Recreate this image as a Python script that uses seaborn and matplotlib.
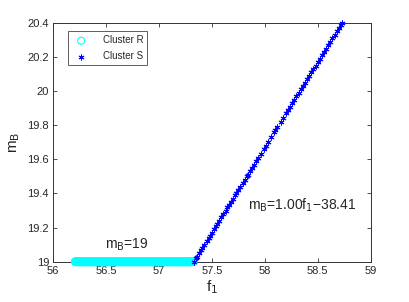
import pandas as pd
import matplotlib
matplotlib.use("Agg")
import matplotlib.pyplot as plt
import seaborn as sns

# --- adatok ---
r_f1 = [56.21, 56.23, 56.24, 56.26, 56.28, 56.30, 56.31, 56.33, 56.35, 56.37, 56.39, 56.40,
        56.42, 56.44, 56.46, 56.48, 56.49, 56.51, 56.53, 56.55, 56.57, 56.58, 56.60, 56.62,
        56.64, 56.66, 56.67, 56.69, 56.71, 56.73, 56.75, 56.76, 56.78, 56.80, 56.82, 56.84,
        56.85, 56.87, 56.89, 56.91, 56.93, 56.94, 56.96, 56.98, 57.00, 57.02, 57.03, 57.05,
        57.07, 57.09, 57.11, 57.12, 57.14, 57.16, 57.18, 57.20, 57.21, 57.23, 57.25, 57.27,
        57.29, 57.30, 57.32]
r_mb = [19.0] * len(r_f1)

s_f1 = [57.33, 57.35, 57.36, 57.38, 57.40, 57.41, 57.43, 57.45, 57.47, 57.48, 57.50, 57.52,
        57.54, 57.55, 57.57, 57.59, 57.61, 57.63, 57.64, 57.66, 57.68, 57.70, 57.72, 57.73,
        57.75, 57.77, 57.79, 57.81, 57.83, 57.84, 57.86, 57.88, 57.90, 57.92, 57.94, 57.96,
        57.99, 58.01, 58.03, 58.06, 58.09, 58.10, 58.12, 58.15, 58.17, 58.20, 58.22, 58.24,
        58.26, 58.28, 58.30, 58.32, 58.34, 58.36, 58.38, 58.40, 58.42, 58.44, 58.46, 58.48,
        58.50, 58.52, 58.54, 58.56, 58.58, 58.60, 58.62, 58.64, 58.66, 58.68, 58.70, 58.72,
        58.73]
s_mb = [19.00, 19.02, 19.03, 19.05, 19.07, 19.08, 19.10, 19.12, 19.14, 19.15, 19.17, 19.19,
        19.21, 19.22, 19.24, 19.26, 19.28, 19.30, 19.32, 19.33, 19.35, 19.37, 19.39, 19.40,
        19.42, 19.44, 19.46, 19.48, 19.50, 19.51, 19.53, 19.55, 19.57, 19.59, 19.61, 19.63,
        19.66, 19.68, 19.70, 19.73, 19.76, 19.77, 19.79, 19.82, 19.84, 19.87, 19.89, 19.91,
        19.93, 19.95, 19.97, 19.99, 20.01, 20.03, 20.05, 20.07, 20.09, 20.11, 20.13, 20.15,
        20.17, 20.19, 20.21, 20.23, 20.25, 20.27, 20.29, 20.31, 20.33, 20.35, 20.37, 20.39,
        20.40]

x_ticks = [56, 56.5, 57, 57.5, 58, 58.5, 59]
x_labels = ["56", "56.5", "57", "57.5", "58", "58.5", "59"]
y_ticks = [19, 19.2, 19.4, 19.6, 19.8, 20, 20.2, 20.4]
y_labels = ["19", "19.2", "19.4", "19.6", "19.8", "20", "20.2", "20.4"]

sns.set_style("ticks")
plt.rcParams["font.family"] = ["Liberation Sans", "DejaVu Sans"]
plt.rcParams["xtick.direction"] = "in"
plt.rcParams["ytick.direction"] = "in"

df_r = pd.DataFrame({"f1": r_f1, "mB": r_mb})
df_s = pd.DataFrame({"f1": s_f1, "mB": s_mb})

fig = plt.figure(figsize=(4.09, 3.02), dpi=100)
ax = fig.add_axes([0.130, 0.1334, 0.776, 0.7906])

sns.scatterplot(data=df_r, x="f1", y="mB", ax=ax, marker="o", s=26,
                facecolors="none", edgecolor="#00ffff", linewidth=1.5,
                label="Cluster R", zorder=3, clip_on=False)
sns.scatterplot(data=df_s, x="f1", y="mB", ax=ax, marker=(6, 2, 0), s=14,
                color="#0000ff", linewidth=0.7, label="Cluster S", zorder=3,
                clip_on=False)

ax.set_xlim(56, 59)
ax.set_ylim(19, 20.4)
ax.set_xticks(x_ticks)
ax.set_xticklabels(x_labels)
ax.set_yticks(y_ticks)
ax.set_yticklabels(y_labels)
ax.tick_params(axis="both", labelsize=8, length=3, width=0.6, color="#333333",
               top=True, right=True, pad=3)
for sp in ax.spines.values():
    sp.set_visible(True)
    sp.set_linewidth(0.7)
    sp.set_color("#333333")

ax.set_xlabel("f$_1$", fontsize=11, labelpad=2)
ax.set_ylabel("m$_\\mathrm{B}$", fontsize=11, labelpad=4)

ax.text(56.49, 19.1, "m$_\\mathrm{B}$=19", fontsize=10, va="center")
ax.text(57.84, 19.33, "m$_\\mathrm{B}$=1.00f$_1$\u221238.41", fontsize=10, va="center")

leg = ax.legend(loc="upper left", bbox_to_anchor=(0.03, 0.985), fontsize=7,
                frameon=True, fancybox=False, edgecolor="#333333",
                handletextpad=1.2, borderpad=0.4, labelspacing=0.6)
leg.get_frame().set_linewidth(0.7)
for h in leg.legend_handles[:1]:
    h.set_linewidth(0.8)

fig.savefig("out.png", dpi=100)
plt.close(fig)
